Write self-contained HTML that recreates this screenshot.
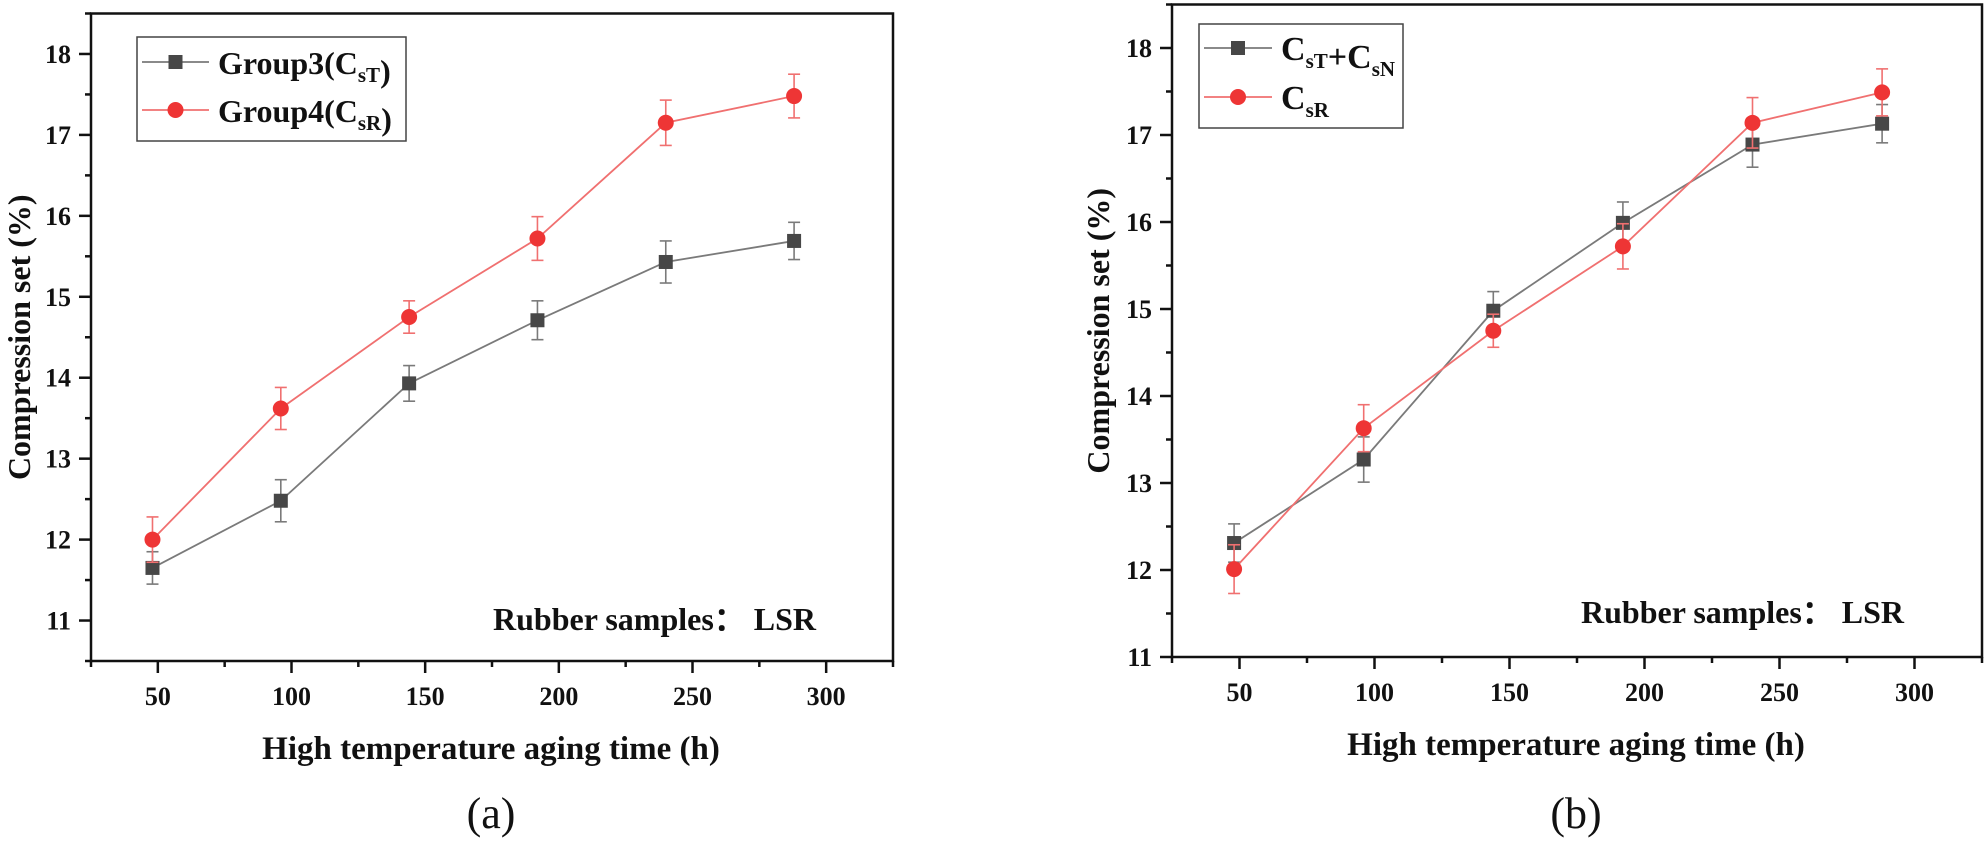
<!DOCTYPE html>
<html><head><meta charset="utf-8">
<style>
html,body{margin:0;padding:0;background:#fff;}
svg{display:block;font-family:"Liberation Serif","Times New Roman",serif;}
</style></head>
<body>
<svg id="fig" width="1986" height="847" viewBox="0 0 1986 847" xmlns="http://www.w3.org/2000/svg"></svg>
<script>
const hours = [48, 96, 144, 192, 240, 288];
const xTicks = [50, 100, 150, 200, 250, 300];
const yTicks = [11, 12, 13, 14, 15, 16, 17, 18];
const groupA3 = [11.65, 12.48, 13.93, 14.71, 15.43, 15.69];
const groupA3Err = [0.2, 0.26, 0.22, 0.24, 0.26, 0.23];
const groupA4 = [12.0, 13.62, 14.75, 15.72, 17.15, 17.48];
const groupA4Err = [0.28, 0.26, 0.2, 0.27, 0.28, 0.27];
const groupBTN = [12.31, 13.27, 14.98, 15.99, 16.89, 17.13];
const groupBTNErr = [0.22, 0.26, 0.22, 0.24, 0.26, 0.22];
const groupBR = [12.01, 13.63, 14.75, 15.72, 17.14, 17.49];
const groupBRErr = [0.28, 0.27, 0.19, 0.26, 0.29, 0.27];

const NS = "http://www.w3.org/2000/svg";
const svg = document.getElementById('fig');
function el(tag, attrs, parent, text){
  const e = document.createElementNS(NS, tag);
  for (const k in attrs) e.setAttribute(k, attrs[k]);
  if (text !== undefined) e.textContent = text;
  (parent || svg).appendChild(e);
  return e;
}

function panel(cfg){
  const g = el('g', {});
  
  
  const X = v => cfg.x0 + (v - 25) / 300 * (cfg.x1 - cfg.x0);
  const Y = v => cfg.y1 - (v - cfg.ymin) / (cfg.ymax - cfg.ymin) * (cfg.y1 - cfg.y0);
  const fr = el('rect', {x: cfg.x0, y: cfg.y0, width: cfg.x1 - cfg.x0, height: cfg.y1 - cfg.y0, fill: 'none', stroke: '#111', 'stroke-width': 2.5}, g);
  
  
  for (let v = Math.ceil(cfg.ymin * 2) / 2; v <= cfg.ymax + 1e-9; v += 0.5) {
    const major = Math.abs(v - Math.round(v)) < 1e-9;
    el('line', {x1: cfg.x0 - (major ? 12 : 6), x2: cfg.x0, y1: Y(v), y2: Y(v), stroke: '#111', 'stroke-width': 2.5}, g);
  }
  yTicks.forEach(v => {
    if (v < cfg.ymin - 1e-9) return;
    const t = el('text', {x: cfg.x0 - 20, y: Y(v) + 9, 'text-anchor': 'end', 'font-size': 26, 'font-weight': 'bold', fill: '#111'}, g, String(v));
    
    
  });
  for (let v = 25; v <= 325; v += 25) {
    const major = v % 50 === 0;
    el('line', {x1: X(v), x2: X(v), y1: cfg.y1, y2: cfg.y1 + (major ? 12 : 6), stroke: '#111', 'stroke-width': 2.5}, g);
  }
  xTicks.forEach(v => {
    const t = el('text', {x: X(v), y: cfg.y1 + 44, 'text-anchor': 'middle', 'font-size': 26, 'font-weight': 'bold', fill: '#111'}, g, String(v));
    
    
  });
  const xt = el('text', {x: cfg.xtx, y: cfg.y1 + 98, 'text-anchor': 'middle', 'font-size': 33, 'font-weight': 'bold', fill: '#111'}, g, 'High temperature aging time (h)');
  
  
  const cy = (cfg.y0 + cfg.y1) / 2;
  const yt = el('text', {x: cfg.ytx, y: cy, 'text-anchor': 'middle', 'font-size': 32, 'font-weight': 'bold', fill: '#111', transform: `rotate(-90 ${cfg.ytx} ${cy})`}, g, 'Compression set (%)');
  
  
  cfg.series.forEach(s => {
    const sg = el('g', {}, g);
    
    
    const pts = hours.map((h, i) => X(h) + ',' + Y(s.vals[i])).join(' ');
    el('polyline', {points: pts, fill: 'none', stroke: s.line, 'stroke-width': 1.8}, sg);
    hours.forEach((h, i) => {
      const x = X(h), yv = Y(s.vals[i]), ya = Y(s.vals[i] + s.err[i]), yb = Y(s.vals[i] - s.err[i]);
      el('line', {x1: x, x2: x, y1: ya, y2: yb, stroke: s.line, 'stroke-width': 1.6}, sg);
      el('line', {x1: x - 6, x2: x + 6, y1: ya, y2: ya, stroke: s.line, 'stroke-width': 1.6}, sg);
      el('line', {x1: x - 6, x2: x + 6, y1: yb, y2: yb, stroke: s.line, 'stroke-width': 1.6}, sg);
      let m;
      if (s.shape === 'sq') m = el('rect', {x: x - 7, y: yv - 7, width: 14, height: 14, fill: s.fill}, sg);
      else m = el('circle', {cx: x, cy: yv, r: 8, fill: s.fill}, sg);
      
      
    });
  });
  const L = cfg.legend;
  const lg = el('g', {}, g);
  
  
  el('rect', {x: L.x, y: L.y, width: L.w, height: L.h, fill: '#fff', stroke: '#444', 'stroke-width': 1.5}, lg);
  cfg.series.forEach((s, i) => {
    const ry = L.rows[i];
    const eg = el('g', {}, lg);
    
    
    el('line', {x1: L.lx0, x2: L.lx1, y1: ry, y2: ry, stroke: s.line, 'stroke-width': 1.8}, eg);
    const mx = (L.lx0 + L.lx1) / 2;
    if (s.shape === 'sq') el('rect', {x: mx - 7, y: ry - 7, width: 14, height: 14, fill: s.fill}, eg);
    else el('circle', {cx: mx, cy: ry, r: 8, fill: s.fill}, eg);
    const t = el('text', {x: L.tx, y: ry + 12, 'font-size': L.fs, 'font-weight': 'bold', fill: '#111'}, eg);
    t.innerHTML = s.label;
  });
  const an = el('text', {x: cfg.annX, y: cfg.annY, 'font-size': 32, 'font-weight': 'bold', fill: '#111'}, g, 'Rubber samples\uFF1A LSR');
  
  
  const pl = el('text', {x: cfg.xtx, y: 828, 'text-anchor': 'middle', 'font-size': 44, fill: '#111'}, g, cfg.tag);
  
  
}

const sub = (t) => `<tspan font-size="21" dy="8">${t}</tspan><tspan dy="-8"></tspan>`;

panel({
  name: 'chart-a', x0: 91, x1: 893, y0: 13.5, y1: 661, ymin: 10.5, ymax: 18.5,
  xtx: 491, ytx: 30, annX: 493, annY: 630, tag: '(a)',
  legend: {x: 137, y: 37, w: 269, h: 104, lx0: 142, lx1: 209, tx: 218, fs: 32, rows: [62, 110]},
  series: [
    {name: 'series-group3', vals: groupA3, err: groupA3Err, line: '#7a7a7a', fill: '#474747', shape: 'sq', label: 'Group3(C' + sub('sT') + ')'},
    {name: 'series-group4', vals: groupA4, err: groupA4Err, line: '#f07070', fill: '#ee3535', shape: 'ci', label: 'Group4(C' + sub('sR') + ')'}
  ]
});
panel({
  name: 'chart-b', x0: 1172, x1: 1982, y0: 4.5, y1: 657, ymin: 11, ymax: 18.5,
  xtx: 1576, ytx: 1109, annX: 1581, annY: 623, tag: '(b)',
  legend: {x: 1199, y: 24, w: 204, h: 104, lx0: 1204, lx1: 1272, tx: 1281, fs: 34, rows: [48, 97]},
  series: [
    {name: 'series-cst-csn', vals: groupBTN, err: groupBTNErr, line: '#7a7a7a', fill: '#474747', shape: 'sq', label: 'C' + sub('sT') + '+C' + sub('sN')},
    {name: 'series-csr', vals: groupBR, err: groupBRErr, line: '#f07070', fill: '#ee3535', shape: 'ci', label: 'C' + sub('sR')}
  ]
});
</script>
</body></html>
